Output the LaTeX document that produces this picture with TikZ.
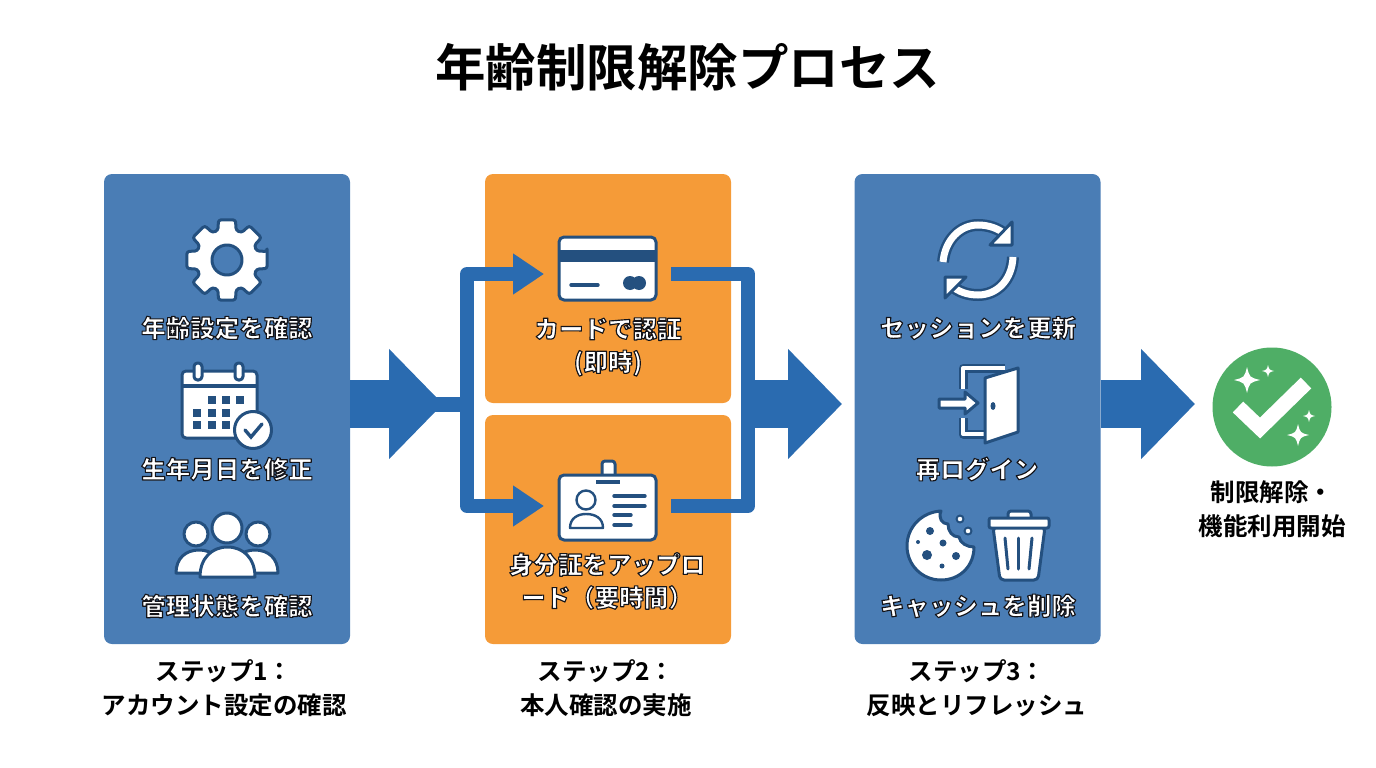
\documentclass[tikz,border=0pt]{standalone}
\usepackage{fontspec}
\setmainfont{Noto Sans CJK JP}[BoldFont={Noto Sans CJK JP Bold}]
\newfontfamily\heavyfont{Noto Sans CJK JP Black}
\usepackage{xcolor}
\usepackage{tikz}
\usetikzlibrary{arrows.meta, positioning, calc}
\definecolor{stepblue}{HTML}{4A7DB5}
\definecolor{steporange}{HTML}{F59B38}
\definecolor{flowblue}{HTML}{2A6BB0}
\definecolor{iconline}{HTML}{24507F}
\definecolor{donegreen}{HTML}{4FAE66}
\newcommand{\outlined}[1]{\special{pdf:code q 2 Tr 1.15 w 1 j 0.08 0.08 0.1 RG 1 g}#1\special{pdf:code Q}}
\tikzset{
  bluepanel/.style={fill=stepblue, rounded corners=8pt, minimum width=246pt, minimum height=470pt, inner sep=0pt},
  orangepanel/.style={fill=steporange, rounded corners=8pt, minimum width=246pt, minimum height=229pt, inner sep=0pt},
  bigflow/.style={draw=flowblue, line width=48pt, -{Triangle[length=54pt,width=107pt]}},
  branch/.style={draw=flowblue, line width=14pt, line join=round},
  branchin/.style={branch, -{Triangle[length=31pt,width=39pt]}},
  panellabel/.style={text=white, font=\fontsize{24.5}{33}\selectfont\heavyfont, align=center, inner sep=0pt},
  steplabel/.style={text=black, font=\fontsize{24.5}{34}\selectfont\bfseries, align=center, inner sep=0pt},
  icon/.style={draw=iconline, fill=white, line width=3pt, line join=round},
  iconstroke/.style={draw=iconline, line width=3.4pt, line cap=round},
  dotfill/.style={fill=iconline}
}
\begin{document}
\begin{tikzpicture}[x=1pt, y=-1pt]
\useasboundingbox (0,0) rectangle (1376,768);
\node[font=\fontsize{50.5}{50}\selectfont\bfseries, inner sep=0pt] (title) at (687.5,67.5) {年齢制限解除プロセス};
% panels
\node[bluepanel] (accountpanel) at (227,409) {};
\node[orangepanel] (cardpanel) at (608,288.5) {};
\node[orangepanel] (idpanel) at (608,529.5) {};
\node[bluepanel] (refreshpanel) at (977.5,409) {};
% connectors
\coordinate (split) at (467,404);
\coordinate (merge) at (748,404);
\coordinate (cardin) at (544,274);
\coordinate (idin) at (544,506);
\coordinate (cardout) at (671,274);
\coordinate (idout) at (671,506);
\coordinate (firsttip) at (443,404);
\coordinate (secondtip) at (842,404);
\coordinate (thirdtip) at (1195,404);
\draw[branch, line width=15pt] (accountpanel.east |- split) -- (split);
\draw[branchin] (split) |- (cardin);
\draw[branchin] (split) |- (idin);
\draw[branch] (cardout) -| (merge);
\draw[branch] (idout) -| (merge);
\draw[bigflow] (accountpanel.east |- split) -- (firsttip);
\draw[bigflow] (merge) -- (secondtip);
\draw[bigflow] (refreshpanel.east |- split) -- (thirdtip);
% gear
\draw[icon, rounded corners=2.5pt] (227,260)++(-12:41)
  \foreach \a in {0,45,...,315} { -- ($(227,260)+(\a-12:41)$) -- ($(227,260)+(\a+12:41)$) -- ($(227,260)+(\a+17:31)$) -- ($(227,260)+(\a+28:31)$) } -- cycle;
\draw[icon, fill=stepblue] (227,260) circle (15);
% calendar
\draw[icon, rounded corners=4pt] (182,371) rectangle (257,438);
\draw[iconstroke, line cap=butt] (183,386) -- (256,386);
\draw[icon, rounded corners=3.5pt] (194,363) rectangle (202,380);
\draw[icon, rounded corners=3.5pt] (235,363) rectangle (243,380);
\foreach \x/\y in {212/400,226/400,240/400,197/413,212/413,226/413,197/425,212/425,226/425}
  \fill[dotfill] (\x-4,\y-4) rectangle (\x+4,\y+4);
\draw[icon] (253,430) circle (18.5);
\draw[iconstroke] (245,430) -- (251,437) -- (262,424);
% people
\draw[icon] (176,573) .. controls (176,558) and (186,550) .. (199,550) .. controls (212,550) and (222,558) .. (222,573) -- cycle;
\draw[icon] (278,573) .. controls (278,558) and (268,550) .. (255,550) .. controls (242,550) and (232,558) .. (232,573) -- cycle;
\draw[icon] (196,534) circle (12);
\draw[icon] (258,534) circle (12);
\draw[icon] (227,528) circle (15);
\draw[icon] (200,577) .. controls (200,558) and (212,547) .. (227.5,547) .. controls (243,547) and (255,558) .. (255,577) -- cycle;
% card
\draw[icon, rounded corners=5pt] (559,237) rectangle (656,300);
\fill[dotfill] (560,250) rectangle (655,262);
\draw[iconstroke] (571,285) -- (598,285);
\fill[dotfill] (630,283) circle (7);
\fill[dotfill] (639,283) circle (7);
% id badge
\draw[icon, rounded corners=3pt] (602,461) rectangle (615,484);
\draw[icon, rounded corners=5pt] (559,475) rectangle (656,540);
\draw[iconstroke, line cap=butt] (596,482) -- (620,482);
\draw[icon, line width=2.4pt] (586,500) circle (9.5);
\draw[icon, line width=2.4pt] (570,528) .. controls (570,518) and (578,514) .. (586,514) .. controls (595,514) and (603,518) .. (603,528) -- cycle;
\foreach \y/\xend in {496/645,506/645,515/631,525/631}
  \draw[iconstroke] (614,\y) -- (\xend,\y);
% refresh
\foreach \lw/\col in {12/iconline,7/white}{
  \draw[draw=\col, line width=\lw pt] (943,262) .. controls (945,240) and (960,225) .. (978,225) .. controls (988,225) and (998,228) .. (1006,235);
  \draw[draw=\col, line width=\lw pt] (1013,257) .. controls (1012,280) and (997,295) .. (978,295) .. controls (968,295) and (958,292) .. (951,285);
}
\draw[icon] (1012,222) -- (1012,245) -- (990,245) -- cycle;
\draw[icon] (945,298) -- (945,277) -- (966,277) -- cycle;
% door
\foreach \lw/\col in {9/iconline,4/white}{
  \draw[draw=\col, line width=\lw pt, line join=round] (1005,368) -- (963,368) -- (963,389);
  \draw[draw=\col, line width=\lw pt, line join=round] (963,418) -- (963,434) -- (986,434);
}
\draw[icon] (985,378) -- (1018,368) -- (1018,432) -- (985,443) -- cycle;
\fill[dotfill] (993,406) ellipse (2.5 and 4);
\draw[icon] (939,399) -- (965,399) -- (965,392) -- (978,403) -- (965,414) -- (965,408) -- (939,408) -- cycle;
% cookie
\draw[icon] (974,547) .. controls (974,566) and (960,580) .. (941,580) .. controls (922,580) and (907,565) .. (907,546)
  .. controls (907,527) and (922,512) .. (941,511) .. controls (938,518) and (942,524) .. (948,524)
  .. controls (948,531) and (952,537) .. (959,537) .. controls (960,543) and (967,547) .. (974,547) -- cycle;
\foreach \x/\y/\r in {930/531/4,943/543/3.5,927/555/5,956/556/4,918/542/2,942/566/2.5}
  \fill[dotfill] (\x,\y) circle (\r);
\draw[icon, line width=2pt] (960,519) circle (3.5);
\draw[icon, line width=2pt] (968,531) circle (3.5);
% trash
\draw[icon, rounded corners=3pt] (1008,519) -- (1008,511) -- (1031,511) -- (1031,519);
\draw[icon, rounded corners=4pt] (993,527) -- (1045,527) -- (1038,580) -- (1000,580) -- cycle;
\draw[icon, rounded corners=2pt] (989,518) rectangle (1049,528);
\draw[iconstroke, line width=3pt] (1005,538) -- (1008,569);
\draw[iconstroke, line width=3pt] (1018.5,538) -- (1018.5,569);
\draw[iconstroke, line width=3pt] (1032,538) -- (1029,569);
% done
\fill[donegreen] (1272,407) circle (59.5);
\draw[draw=white, line width=15pt, line join=miter] (1238,407) -- (1260,428) -- (1306,383);
\foreach \x/\y/\r in {1247/380/13,1268/371/6,1309/416/6,1298/435/11}
  \fill[white, shift={(\x,\y)}, scale=\r] (0,-1) .. controls (.2,-.2) .. (1,0) .. controls (.2,.2) .. (0,1) .. controls (-.2,.2) .. (-1,0) .. controls (-.2,-.2) .. (0,-1) -- cycle;
% labels
\node[panellabel] (agelabel) at (227,328) {\outlined{年齢設定を確認}};
\node[panellabel] (birthlabel) at (227,469) {\outlined{生年月日を修正}};
\node[panellabel] (managelabel) at (227,606) {\outlined{管理状態を確認}};
\node[panellabel] (cardlabel) at (608,347) {\outlined{カードで認証}\\\outlined{(即時)}};
\node[panellabel] (idlabel) at (607,581) {\outlined{身分証をアップロ}\\\outlined{ード（要時間）}};
\node[panellabel] (sessionlabel) at (978,328) {\outlined{セッションを更新}};
\node[panellabel] (loginlabel) at (977,469) {\outlined{再ログイン}};
\node[panellabel] (cachelabel) at (978,606) {\outlined{キャッシュを削除}};
\node[steplabel] (stepone) at (224,688) {ステップ1：\\アカウント設定の確認};
\node[steplabel] (steptwo) at (606,688) {ステップ2：\\本人確認の実施};
\node[steplabel] (stepthree) at (977,688) {ステップ3：\\反映とリフレッシュ};
\node[steplabel] (donelabel) at (1272,509) {制限解除・\\機能利用開始};
\end{tikzpicture}
\end{document}
